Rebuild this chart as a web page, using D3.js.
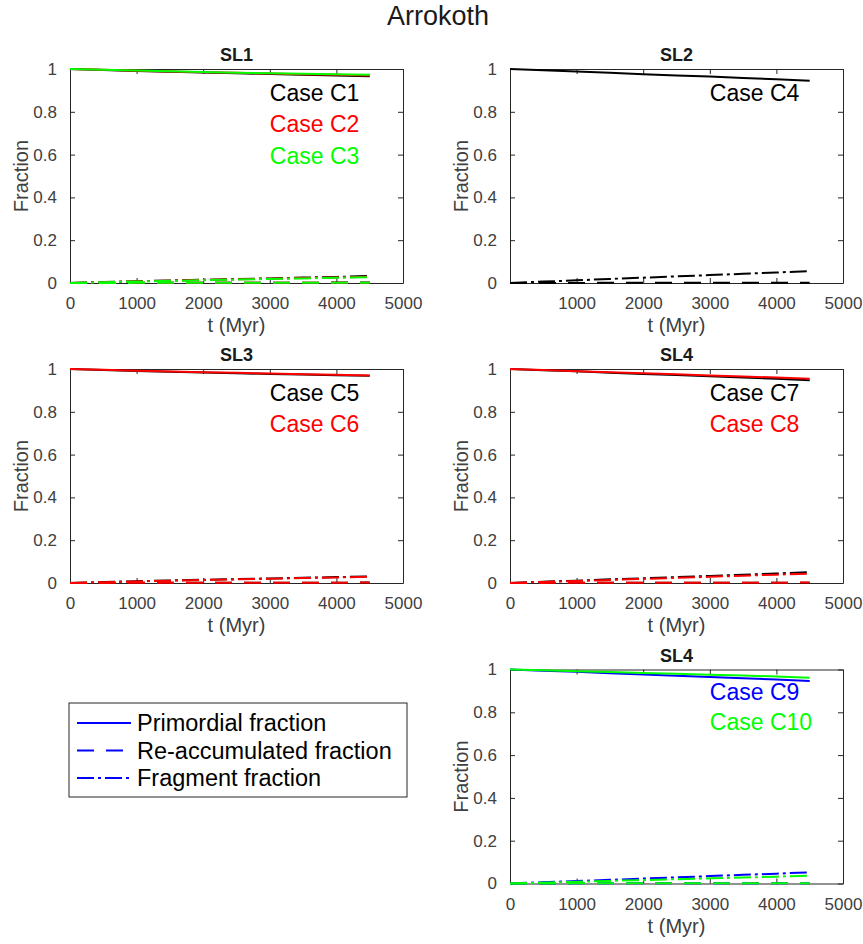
<!DOCTYPE html>
<html>
<head>
<meta charset="utf-8">
<script src="https://cdn.jsdelivr.net/npm/d3@7"></script>
<style>
  html, body { margin: 0; padding: 0; background: #fff; }
  svg { display: block; font-family: "Liberation Sans", Arial, Helvetica, sans-serif; }
</style>
</head>
<body>
<svg id="chart" width="863" height="944"></svg>
<script>
// Time samples (Myr)
const years = [0, 500, 1000, 1500, 2000, 2500, 3000, 3500, 4000, 4500];

// Primordial, re-accumulated and fragment fractions per case
const primordialC1 = [1.000, 0.995, 0.991, 0.987, 0.984, 0.980, 0.977, 0.973, 0.970, 0.966];
const reaccumC1    = [0, 0.0005, 0.0008, 0.0011, 0.0013, 0.0015, 0.0016, 0.0017, 0.0018, 0.0019];
const fragmentC1   = [0, 0.0045, 0.0085, 0.012, 0.0150, 0.0185, 0.0215, 0.0255, 0.0285, 0.0325];

const primordialC2 = [1.000, 0.996, 0.992, 0.988, 0.985, 0.982, 0.979, 0.976, 0.973, 0.970];
const reaccumC2    = [0, 0.0004, 0.0007, 0.0009, 0.0011, 0.0012, 0.0013, 0.0014, 0.0015, 0.0016];
const fragmentC2   = [0, 0.0040, 0.0075, 0.011, 0.0140, 0.0170, 0.0200, 0.0230, 0.0260, 0.0290];

const primordialC3 = [1.000, 0.996, 0.993, 0.989, 0.986, 0.983, 0.980, 0.978, 0.975, 0.973];
const reaccumC3    = [0, 0.0004, 0.0006, 0.0008, 0.0010, 0.0011, 0.0012, 0.0013, 0.0014, 0.0015];
const fragmentC3   = [0, 0.0038, 0.0070, 0.010, 0.0130, 0.0160, 0.0190, 0.0215, 0.0245, 0.0270];

const primordialC4 = [1.000, 0.994, 0.988, 0.982, 0.976, 0.970, 0.965, 0.958, 0.952, 0.945];
const reaccumC4    = [0, 0.0003, 0.0005, 0.0007, 0.0008, 0.0009, 0.0010, 0.0011, 0.0012, 0.0013];
const fragmentC4   = [0, 0.0065, 0.0125, 0.019, 0.0250, 0.0310, 0.0370, 0.0430, 0.0490, 0.0560];

const primordialC5 = [1.000, 0.995, 0.991, 0.987, 0.984, 0.980, 0.977, 0.974, 0.971, 0.968];
const reaccumC5    = [0, 0.0005, 0.0008, 0.0010, 0.0012, 0.0014, 0.0015, 0.0016, 0.0017, 0.0018];
const fragmentC5   = [0, 0.0045, 0.0080, 0.012, 0.0150, 0.0180, 0.0215, 0.0245, 0.0275, 0.0310];

const primordialC6 = [1.000, 0.996, 0.992, 0.988, 0.985, 0.982, 0.979, 0.976, 0.973, 0.970];
const reaccumC6    = [0, 0.0005, 0.0008, 0.0010, 0.0012, 0.0014, 0.0015, 0.0016, 0.0017, 0.0018];
const fragmentC6   = [0, 0.0040, 0.0075, 0.011, 0.0140, 0.0170, 0.0200, 0.0230, 0.0260, 0.0290];

const primordialC7 = [1.000, 0.994, 0.989, 0.983, 0.977, 0.972, 0.966, 0.960, 0.954, 0.948];
const reaccumC7    = [0, 0.0004, 0.0007, 0.0009, 0.0011, 0.0013, 0.0014, 0.0015, 0.0016, 0.0017];
const fragmentC7   = [0, 0.0060, 0.0110, 0.017, 0.0220, 0.0275, 0.0330, 0.0390, 0.0445, 0.0505];

const primordialC8 = [1.000, 0.995, 0.990, 0.985, 0.980, 0.975, 0.970, 0.965, 0.960, 0.955];
const reaccumC8    = [0, 0.0005, 0.0008, 0.0010, 0.0012, 0.0014, 0.0015, 0.0016, 0.0017, 0.0018];
const fragmentC8   = [0, 0.0050, 0.0095, 0.014, 0.0190, 0.0240, 0.0290, 0.0340, 0.0390, 0.0440];

const primordialC9  = [1.000, 0.994, 0.989, 0.983, 0.977, 0.971, 0.965, 0.959, 0.953, 0.946];
const reaccumC9     = [0, 0.0004, 0.0007, 0.0009, 0.0011, 0.0013, 0.0014, 0.0015, 0.0016, 0.0017];
const fragmentC9    = [0, 0.0060, 0.0115, 0.017, 0.0230, 0.0285, 0.0345, 0.0405, 0.0460, 0.0525];

const primordialC10 = [1.000, 0.996, 0.992, 0.988, 0.984, 0.980, 0.976, 0.972, 0.967, 0.962];
const reaccumC10    = [0, 0.0004, 0.0007, 0.0009, 0.0011, 0.0012, 0.0013, 0.0014, 0.0015, 0.0016];
const fragmentC10   = [0, 0.0040, 0.0080, 0.012, 0.0160, 0.0200, 0.0240, 0.0280, 0.0320, 0.0370];

// Axis ticks
const xTicks = [0, 1000, 2000, 3000, 4000, 5000];
const yTicks = [0, 0.2, 0.4, 0.6, 0.8, 1];

// Panel titles and legend entries
const panelTitles = ["SL1", "SL2", "SL3", "SL4", "SL4"];
const legendLabels = ["Primordial fraction", "Re-accumulated fraction", "Fragment fraction"];

const COLORS = { black: "#000000", red: "#ff0000", green: "#00ff00", blue: "#0000ff" };

const makeCase = (name, color, labelY, prim, reac, frag) => ({ name, color, labelY, prim, reac, frag });

const panels = [
  { title: panelTitles[0], col: 0, row: 0, showZero: true, cases: [
      makeCase("Case C1", COLORS.black, 0.886, primordialC1, reaccumC1, fragmentC1),
      makeCase("Case C2", COLORS.red,   0.743, primordialC2, reaccumC2, fragmentC2),
      makeCase("Case C3", COLORS.green, 0.596, primordialC3, reaccumC3, fragmentC3)] },
  { title: panelTitles[1], col: 1, row: 0, showZero: false, cases: [
      makeCase("Case C4", COLORS.black, 0.886, primordialC4, reaccumC4, fragmentC4)] },
  { title: panelTitles[2], col: 0, row: 1, showZero: true, cases: [
      makeCase("Case C5", COLORS.black, 0.888, primordialC5, reaccumC5, fragmentC5),
      makeCase("Case C6", COLORS.red,   0.743, primordialC6, reaccumC6, fragmentC6)] },
  { title: panelTitles[3], col: 1, row: 1, showZero: true, cases: [
      makeCase("Case C7", COLORS.black, 0.888, primordialC7, reaccumC7, fragmentC7),
      makeCase("Case C8", COLORS.red,   0.745, primordialC8, reaccumC8, fragmentC8)] },
  { title: panelTitles[4], col: 1, row: 2, showZero: true, cases: [
      makeCase("Case C9",  COLORS.blue,  0.897, primordialC9,  reaccumC9,  fragmentC9),
      makeCase("Case C10", COLORS.green, 0.755, primordialC10, reaccumC10, fragmentC10)] }
];

// Layout
const colLeft = [70, 510];
const plotW = 333;
const rowTop = [69, 369, 669.5];
const plotH = 214;
const AXIS = "#262626";
const TEXT = "#404040";
const DASH = "17,12";
const DASHDOT = "17,4,3,4";

const svg = d3.select("#chart");

svg.append("text")
  .attr("x", 438).attr("y", 25)
  .attr("text-anchor", "middle")
  .attr("font-size", 27)
  .attr("fill", "#1a1a1a")
  .text("Arrokoth");

panels.forEach(p => {
  const x0 = colLeft[p.col], y0 = rowTop[p.row];
  const x = d3.scaleLinear().domain([0, 5000]).range([0, plotW]);
  const y = d3.scaleLinear().domain([0, 1]).range([plotH, 0]);
  const g = svg.append("g").attr("transform", `translate(${x0},${y0})`);

  // Box with inward ticks on all four sides
  const tickLen = 5;
  const bottom = g.append("g").attr("transform", `translate(0,${plotH})`)
    .call(d3.axisBottom(x).tickValues(xTicks).tickSizeInner(-tickLen).tickSizeOuter(0)
      .tickPadding(14).tickFormat(d => (d === 0 && !p.showZero) ? "" : d3.format("d")(d)));
  const top = g.append("g")
    .call(d3.axisTop(x).tickValues(xTicks).tickSizeInner(-tickLen).tickSizeOuter(0).tickFormat(""));
  const left = g.append("g")
    .call(d3.axisLeft(y).tickValues(yTicks).tickSizeInner(-tickLen).tickSizeOuter(0)
      .tickPadding(13).tickFormat(d => d3.format("~g")(d)));
  const right = g.append("g").attr("transform", `translate(${plotW},0)`)
    .call(d3.axisRight(y).tickValues(yTicks).tickSizeInner(-tickLen).tickSizeOuter(0).tickFormat(""));

  [bottom, top, left, right].forEach(a => {
    a.select(".domain").attr("stroke", AXIS).attr("stroke-width", 1);
    a.selectAll(".tick line").attr("stroke", AXIS).attr("stroke-width", 1);
    a.selectAll(".tick text").attr("fill", TEXT).attr("font-size", 17)
      .attr("font-family", "'Liberation Sans', Arial, sans-serif");
  });

  // Curves
  const line = d3.line().x((d, i) => x(years[i])).y(d => y(d));
  p.cases.forEach(c => {
    g.append("path").datum(c.prim).attr("d", line)
      .attr("fill", "none").attr("stroke", c.color).attr("stroke-width", 2);
  });
  p.cases.forEach(c => {
    g.append("path").datum(c.reac).attr("d", line)
      .attr("fill", "none").attr("stroke", c.color).attr("stroke-width", 2)
      .attr("stroke-dasharray", DASH);
    g.append("path").datum(c.frag).attr("d", line)
      .attr("fill", "none").attr("stroke", c.color).attr("stroke-width", 2)
      .attr("stroke-dasharray", DASHDOT);
  });

  // Case labels
  p.cases.forEach(c => {
    g.append("text")
      .attr("x", x(3000)).attr("y", y(c.labelY))
      .attr("dy", "0.35em")
      .attr("font-size", 23)
      .attr("fill", c.color)
      .text(c.name);
  });

  // Titles and axis labels
  g.append("text")
    .attr("x", plotW / 2).attr("y", -8)
    .attr("text-anchor", "middle")
    .attr("font-size", 18).attr("font-weight", "bold")
    .attr("fill", "#1a1a1a")
    .text(p.title);

  g.append("text")
    .attr("x", plotW / 2).attr("y", plotH + 49)
    .attr("text-anchor", "middle")
    .attr("font-size", 20)
    .attr("fill", TEXT)
    .text("t (Myr)");

  g.append("text")
    .attr("transform", `translate(${-42},${plotH / 2}) rotate(-90)`)
    .attr("text-anchor", "middle")
    .attr("font-size", 20)
    .attr("fill", TEXT)
    .text("Fraction");
});

// Legend
const legend = svg.append("g").attr("transform", "translate(69,703)");
legend.append("rect")
  .attr("width", 338).attr("height", 94)
  .attr("fill", "#fff").attr("stroke", AXIS).attr("stroke-width", 1);
const dashes = [null, DASH, DASHDOT];
legendLabels.forEach((lab, i) => {
  const yy = 20 + i * 27.5;
  legend.append("line")
    .attr("x1", 8).attr("x2", 62).attr("y1", yy).attr("y2", yy)
    .attr("stroke", COLORS.blue).attr("stroke-width", 2)
    .attr("stroke-dasharray", dashes[i]);
  legend.append("text")
    .attr("x", 68).attr("y", yy).attr("dy", "0.35em")
    .attr("font-size", 23.5)
    .attr("fill", "#000")
    .text(lab);
});
</script>
</body>
</html>
